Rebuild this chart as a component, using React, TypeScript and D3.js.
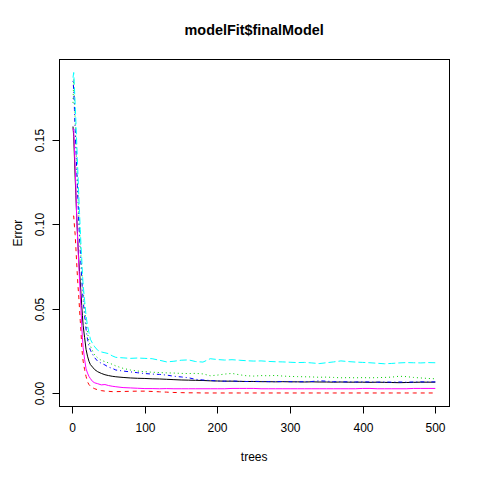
import React from "react";
import * as d3 from "d3";

const trees = [1,2,3,4,5,6,7,8,9,10,11,12,13,14,15,17,19,21,23,25,28,31,35,40,45,50,55,60,70,80,90,100,
  110,120,130,140,150,160,170,180,190,200,210,220,230,240,250,260,270,280,290,300,
  310,320,330,340,350,360,370,380,390,400,410,420,430,440,450,460,470,480,490,500];

const oob = [0.158,0.152,0.140,0.128,0.117,0.106,0.096,0.087,0.079,0.072,0.066,0.059,0.052,0.046,0.040,0.033,0.026,0.022,0.019,0.017,0.0155,0.014,0.0128,0.0118,0.011,0.0105,0.0101,0.0098,0.0094,0.0091,0.0089,0.0088,
  0.0086,0.0085,0.0083,0.0081,0.0079,0.0078,0.0077,0.0076,0.0074,0.0073,0.0072,0.0072,0.0071,0.0070,0.0070,0.0069,0.0069,0.0068,0.0069,0.0068,
  0.0068,0.0067,0.0068,0.0067,0.0067,0.0066,0.0067,0.0066,0.0066,0.0066,0.0065,0.0066,0.0065,0.0064,0.0063,0.0064,0.0065,0.0066,0.0066,0.0066];

const classA = [0.105,0.105,0.099,0.094,0.086,0.078,0.070,0.063,0.057,0.050,0.043,0.037,0.028,0.023,0.019,0.014,0.010,0.0068,0.0052,0.0042,0.0033,0.0027,0.0021,0.0016,0.0013,0.0012,0.0010,0.0010,0.0011,0.0012,0.0013,0.0013,
  0.0011,0.0009,0.0007,0.0005,0.0004,0.0003,0.0003,0.0002,0.0002,0.0002,0.0002,0.0002,0.0002,0.0002,0.0002,0.0002,0.0002,0.0002,0.0002,0.0002,
  0.0002,0.0002,0.0002,0.0002,0.0002,0.0002,0.0002,0.0002,0.0002,0.0002,0.0002,0.0002,0.0002,0.0002,0.0002,0.0002,0.0002,0.0002,0.0002,0.0002];

const classB = [0.172,0.186,0.174,0.162,0.150,0.138,0.127,0.116,0.106,0.097,0.089,0.081,0.074,0.067,0.061,0.051,0.042,0.036,0.031,0.028,0.025,0.0225,0.021,0.0195,0.0188,0.018,0.0172,0.0162,0.0148,0.0138,0.0132,0.0128,
  0.0125,0.0123,0.0121,0.0120,0.0118,0.0117,0.0118,0.0115,0.0104,0.0108,0.0114,0.0118,0.0110,0.0104,0.0102,0.0105,0.0104,0.0106,0.0102,0.0100,
  0.0099,0.0098,0.0097,0.0095,0.0096,0.0094,0.0092,0.0093,0.0092,0.0093,0.0092,0.0093,0.0094,0.0096,0.0101,0.0099,0.0094,0.0091,0.0088,0.0086];

const classC = [0.185,0.180,0.168,0.156,0.145,0.134,0.123,0.112,0.101,0.092,0.084,0.076,0.068,0.061,0.055,0.046,0.038,0.032,0.028,0.0255,0.023,0.021,0.019,0.0178,0.0168,0.0155,0.0148,0.0138,0.0132,0.0127,0.0122,0.0117,
  0.0114,0.0112,0.0108,0.0101,0.0097,0.0092,0.0083,0.0079,0.0076,0.0073,0.0072,0.0073,0.0071,0.0070,0.0071,0.0070,0.0069,0.0069,0.0070,0.0069,
  0.0068,0.0069,0.0070,0.0074,0.0072,0.0069,0.0068,0.0068,0.0067,0.0068,0.0067,0.0066,0.0067,0.0066,0.0067,0.0066,0.0067,0.0068,0.0067,0.0068];

const classD = [0.187,0.190,0.181,0.171,0.161,0.150,0.139,0.128,0.117,0.107,0.097,0.088,0.080,0.071,0.064,0.055,0.046,0.040,0.036,0.032,0.0295,0.0275,0.0255,0.0245,0.0240,0.0235,0.0222,0.0213,0.0210,0.0207,0.0209,0.0207,
  0.0205,0.0196,0.0186,0.0190,0.0196,0.0198,0.0188,0.0185,0.0205,0.0200,0.0197,0.0199,0.0196,0.0193,0.0191,0.0192,0.0189,0.0187,0.0186,0.0184,
  0.0182,0.0183,0.0180,0.0176,0.0181,0.0186,0.0192,0.0188,0.0185,0.0183,0.0181,0.0178,0.0175,0.0177,0.0180,0.0182,0.0181,0.0180,0.0182,0.0181];

const classE = [0.157,0.155,0.145,0.133,0.121,0.106,0.095,0.085,0.076,0.067,0.059,0.050,0.040,0.033,0.027,0.020,0.0145,0.012,0.010,0.0087,0.007,0.0062,0.0057,0.005,0.0052,0.0046,0.0042,0.0039,0.0034,0.0032,0.0030,0.0028,
  0.0028,0.0027,0.0028,0.0027,0.0027,0.0027,0.0027,0.0027,0.0027,0.0027,0.0027,0.0029,0.0029,0.0029,0.0029,0.0027,0.0027,0.0027,0.0027,0.0027,
  0.0027,0.0027,0.0027,0.0027,0.0027,0.0027,0.0027,0.0027,0.0027,0.0029,0.0029,0.0027,0.0027,0.0027,0.0027,0.0027,0.0029,0.0029,0.0029,0.0029];

const xTicks = [0, 100, 200, 300, 400, 500];
const yTicks = [0.0, 0.05, 0.1, 0.15];
const yTickLabels = ["0.00", "0.05", "0.10", "0.15"];
const titleText = "modelFit$finalModel";
const xLabel = "trees";
const yLabel = "Error";

const seriesList = [
  { values: oob, color: "#000000", dash: "none" },
  { values: classA, color: "#FF0000", dash: "4,4" },
  { values: classB, color: "#00CD00", dash: "1,3" },
  { values: classC, color: "#0000FF", dash: "1,3,4,3" },
  { values: classD, color: "#00FFFF", dash: "7,3" },
  { values: classE, color: "#FF00FF", dash: "none" },
];

export default function App() {
  const W = 480, H = 480;
  const left = 58.5, right = 449.8, top = 59.3, bottom = 407;
  const x = d3.scaleLinear().domain([-18.96, 519.96]).range([left, right]);
  const y = d3.scaleLinear().domain([-0.0081, 0.1978]).range([bottom, top]);
  const line = d3.line<number>().x((_, i) => x(trees[i])).y((d) => y(d));
  const font = "'Liberation Sans', Arial, Helvetica, sans-serif";
  const bx = Math.round(left) + 0.5, bxr = Math.round(right) - 0.5;
  const by = Math.round(top) + 0.5, byb = Math.round(bottom) - 0.5;
  return (
    <svg width={W} height={H} style={{ position: "absolute", left: 0, top: 0, background: "#fff" }} fontFamily={font}>
      <rect x={0} y={0} width={W} height={H} fill="#fff" />
      <text x={(left + right) / 2} y={35} textAnchor="middle" fontWeight="bold" fontSize={14.4}>{titleText}</text>
      <defs>
        <clipPath id="plotclip"><rect x={left} y={top} width={right - left} height={bottom - top} /></clipPath>
      </defs>
      <g clipPath="url(#plotclip)">
        {seriesList.map((s, i) => (
          <path key={i} d={line(s.values) || ""} fill="none" stroke={s.color} strokeWidth={1} strokeDasharray={s.dash} />
        ))}
      </g>
      <rect x={bx} y={by} width={bxr - bx} height={byb - by} fill="none" stroke="#000" strokeWidth={1} />
      {xTicks.map((t) => {
        const px = Math.round(x(t)) + 0.5;
        return (
          <g key={t}>
            <line x1={px} x2={px} y1={byb} y2={byb + 7} stroke="#000" />
            <text x={px} y={432} textAnchor="middle" fontSize={12}>{t}</text>
          </g>
        );
      })}
      {yTicks.map((t, i) => {
        const py = Math.round(y(t)) + 0.5;
        return (
          <g key={t}>
            <line x1={bx - 7} x2={bx} y1={py} y2={py} stroke="#000" />
            <text transform={`translate(43.5,${py}) rotate(-90)`} textAnchor="middle" fontSize={12}>{yTickLabels[i]}</text>
          </g>
        );
      })}
      <text x={(left + right) / 2} y={461} textAnchor="middle" fontSize={12}>{xLabel}</text>
      <text transform={`translate(22,${(top + bottom) / 2}) rotate(-90)`} textAnchor="middle" fontSize={12}>{yLabel}</text>
    </svg>
  );
}
